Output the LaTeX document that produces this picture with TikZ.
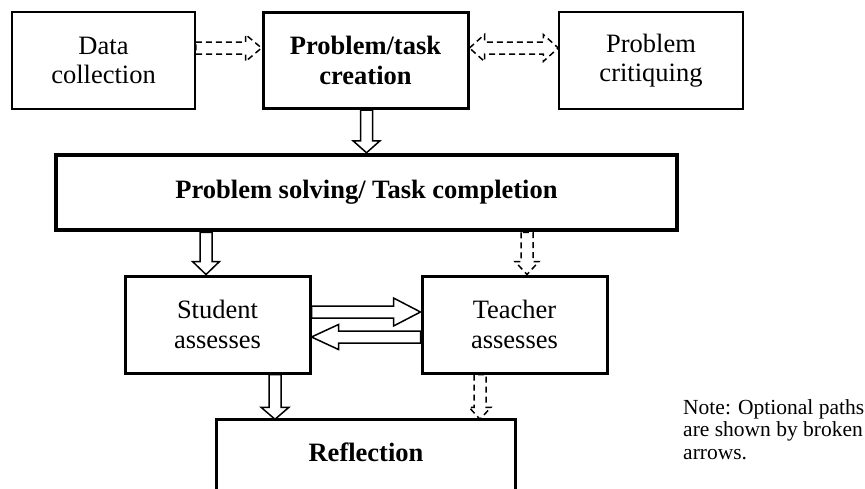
\documentclass[tikz,border=0pt]{standalone}
\usepackage{fontspec}
\setmainfont{Liberation Serif}
\usetikzlibrary{calc}
\def\ahl{13pt}\def\ahw{13.5pt}\def\asw{6pt}
\tikzset{
  box/.style={draw, line width=1.5pt, inner sep=0pt, align=center,
    font=\fontsize{26.5}{29.5}\selectfont},
  thickbox/.style={box, line width=3pt},
  heavybox/.style={box, line width=4.5pt},
  arr/.style={draw, line width=1.5pt, line join=miter},
  opt/.style={arr, dash pattern=on 6pt off 4pt},
  headlen/.code={\def\ahl{#1}},
  headwid/.code={\def\ahw{#1}},
  bdown/.style={to path={let \p1=(\tikztostart), \p2=(\tikztotarget) in
    (\x2-\asw,\y1) -- (\x2-\asw,\y2+\ahl) -- (\x2-\ahw,\y2+\ahl) -- (\x2,\y2)
    -- (\x2+\ahw,\y2+\ahl) -- (\x2+\asw,\y2+\ahl) -- (\x2+\asw,\y1) -- cycle}},
  bright/.style={to path={let \p1=(\tikztostart), \p2=(\tikztotarget) in
    (\x1,\y2+\asw) -- (\x2-\ahl,\y2+\asw) -- (\x2-\ahl,\y2+\ahw) -- (\x2,\y2)
    -- (\x2-\ahl,\y2-\ahw) -- (\x2-\ahl,\y2-\asw) -- (\x1,\y2-\asw) -- cycle}},
  bleft/.style={to path={let \p1=(\tikztostart), \p2=(\tikztotarget) in
    (\x1,\y2+\asw) -- (\x2+\ahl,\y2+\asw) -- (\x2+\ahl,\y2+\ahw) -- (\x2,\y2)
    -- (\x2+\ahl,\y2-\ahw) -- (\x2+\ahl,\y2-\asw) -- (\x1,\y2-\asw) -- cycle}},
  bboth/.style={to path={let \p1=(\tikztostart), \p2=(\tikztotarget) in
    (\x1,\y2) -- (\x1+\ahl,\y2+\ahw) -- (\x1+\ahl,\y2+\asw) -- (\x2-\ahl,\y2+\asw)
    -- (\x2-\ahl,\y2+\ahw) -- (\x2,\y2) -- (\x2-\ahl,\y2-\ahw) -- (\x2-\ahl,\y2-\asw)
    -- (\x1+\ahl,\y2-\asw) -- (\x1+\ahl,\y2-\ahw) -- cycle}},
}
\begin{document}
\begin{tikzpicture}[x=1pt, y=-1pt]
\useasboundingbox (0,0) rectangle (865,488);
\clip (0,0) rectangle (865,488);
% top row
\node[box, minimum width=183pt, minimum height=97pt] (dc) at (103.5,60.5) {Data\\collection};
\node[thickbox, minimum width=205pt, minimum height=96pt] (pt) at (365.5,60.5) {\bfseries Problem/task\\\bfseries creation};
\node[box, minimum width=184pt, minimum height=97pt] (pc) at (651,60.5) {Problem\\critiquing};
% problem solving
\node[heavybox, minimum width=621pt, minimum height=75pt] (ps) at (366.5,192.5) {\bfseries Problem solving/ Task completion};
% assessments
\node[thickbox, minimum width=185pt, minimum height=97pt] (sa) at (217.5,324.5) {Student\\assesses};
\node[thickbox, minimum width=185pt, minimum height=97pt] (ta) at (514.5,324.5) {Teacher\\assesses};
% reflection (box runs past the lower edge)
\node[box, draw=none, minimum width=298pt, minimum height=64pt] (rf) at (366,452) {\bfseries Reflection};
\draw[line width=3pt, line join=miter] ($(rf.south west)+(0,40)$) |- (rf.north east) -- ($(rf.south east)+(0,40)$);
% note
\node[anchor=base west, inner sep=0pt, align=left, font=\fontsize{21.5}{22.5}\selectfont] (note) at (683,459)
  {Note: Optional paths\\are shown by broken\\arrows.};
% arrows
\draw[opt, headlen=16pt] (dc.east) to[bright] ([yshift=12.5pt]pt.west);
\draw[opt, headlen=15pt] (pt.east) to[bboth] ([yshift=12.5pt]pc.west);
\draw[arr, headlen=12pt] (pt.south) to[bdown] (ps.north);
\draw[arr] (ps.south) to[bdown] ([xshift=-11.5pt]sa.north);
\draw[opt, headwid=12pt] (ps.south) to[bdown] ([xshift=12.5pt]ta.north);
\draw[arr, headlen=27pt, headwid=14pt] (sa.east) to[bright] ([yshift=12.5pt]ta.west);
\draw[arr, headlen=27pt, headwid=12.5pt] (ta.west) to[bleft] ([yshift=-12.5pt]sa.east);
\draw[arr, headlen=12pt, headwid=14pt] (sa.south) to[bdown] ([xshift=-91pt]rf.north);
\draw[opt, headlen=12pt, headwid=11pt] (ta.south) to[bdown] ([xshift=114pt]rf.north);
\end{tikzpicture}
\end{document}
